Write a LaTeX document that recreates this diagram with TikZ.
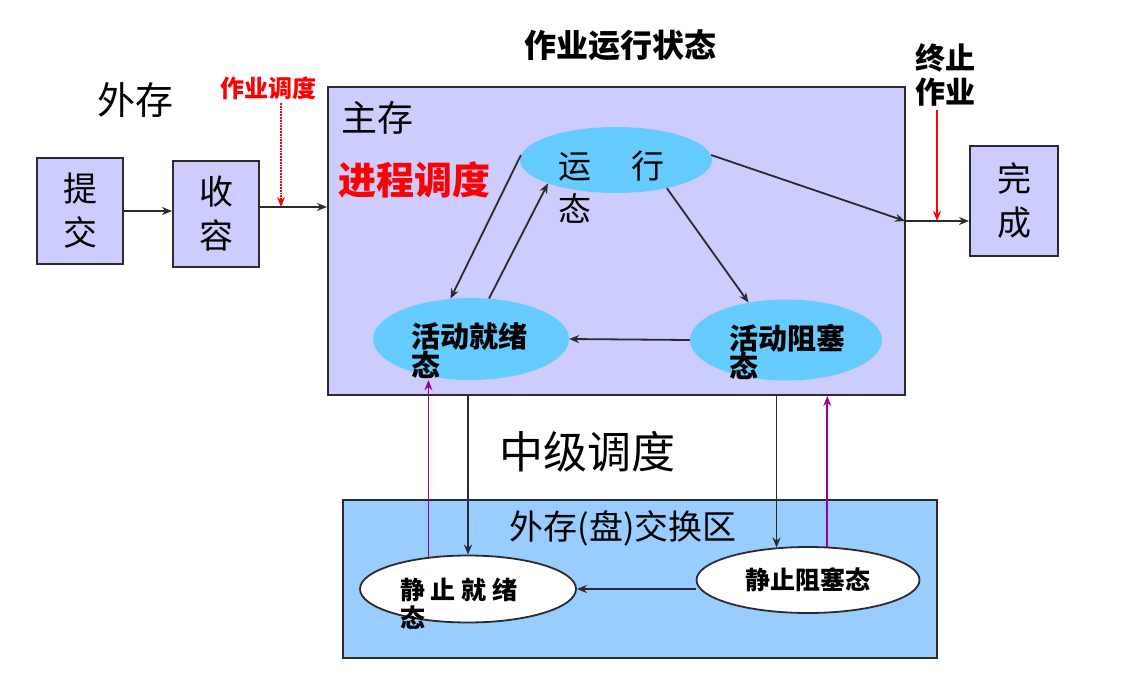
\documentclass[tikz,border=0pt]{standalone}
\usepackage{fontspec}
\setmainfont{Noto Sans CJK SC}
\usepackage{tikz}
\usetikzlibrary{arrows.meta,positioning,shapes.geometric}
\definecolor{lavender}{HTML}{CCCCFF}
\definecolor{skyblue}{HTML}{66CCFF}
\definecolor{swapblue}{HTML}{99CCFF}
\definecolor{plum}{HTML}{990099}
\definecolor{signal}{HTML}{FF0000}
\definecolor{bk90}{HTML}{2B2B2B}
\tikzset{
  jobbox/.style={rectangle, draw=bk90, fill=lavender, line width=2pt,
    minimum width=86pt, minimum height=106pt, align=center,
    font=\fontsize{34}{44}\selectfont, inner sep=0pt},
  membox/.style={rectangle, draw=bk90, fill=#1, line width=2pt, inner sep=0pt},
  membox/.default=lavender,
  stateell/.style={ellipse, fill=#1, inner sep=0pt},
  stateell/.default=skyblue,
  swapell/.style={ellipse, draw=bk90, fill=white, line width=1.8pt,
    inner sep=0pt, font=\bfseries\fontsize{25}{28}\selectfont},
  statelabel/.style={anchor=west, align=left, inner sep=0pt,
    font=\bfseries\fontsize{29}{28}\selectfont},
  statearrow/.style={-{Stealth[length=10pt,width=8pt]}, line width=1.8pt, color=#1},
  statearrow/.default=bk90,
}

\begin{document}
\begin{tikzpicture}[x=1pt, y=-1pt]
  \useasboundingbox (0,0) rectangle (1126,687);
  % memories
  \node[membox, minimum width=577pt, minimum height=308pt] (main) at (616.5,241) {};
  \node[membox=swapblue, minimum width=594pt, minimum height=158pt] (swap) at (640,579) {};

  % jobs
  \node[jobbox] (submit) at (80,211) {提\\交};
  \node[jobbox] (accept) at (216,214) {收\\容};
  \node[jobbox, minimum width=88pt, minimum height=110pt] (done) at (1014,201) {完\\成};

  % labels
  \node[font=\fontsize{38}{38}\selectfont] (ext-label) at (135,100) {外存};
  \node[font=\bfseries\fontsize{24}{24}\selectfont, text=signal] (job-sched) at (268,88) {作业调度};
  \node[font=\bfseries\fontsize{32}{32}\selectfont] (state-title) at (620,45) {作业运行状态};
  \node[font=\fontsize{36}{36}\selectfont, anchor=west, inner sep=0pt] (main-label) at (341,118) {主存};
  \node[font=\bfseries\fontsize{38}{38}\selectfont, text=signal, anchor=west, inner sep=0pt] (proc-sched) at (338,180) {进程调度};
  \node[font=\fontsize{44}{44}\selectfont] (mid-sched) at (587,452) {中级调度};
  \node[font=\fontsize{34}{34}\selectfont] (swap-label) at (623,528) {外存(盘)交换区};
  \node[font=\bfseries\fontsize{30}{34}\selectfont, align=center] (stop) at (945,75) {终止\\作业};

  % states
  \node[stateell, minimum width=192pt, minimum height=66pt] (run) at (616,160) {};
  \node[statelabel, font=\fontsize{33}{43}\selectfont] (run-text) at (558,187) {运\hspace{40pt}行\\态};
  \node[stateell, minimum width=196pt, minimum height=82pt] (ready) at (471,339) {};
  \node[statelabel] (ready-text) at (411,351) {活动就绪\\态};
  \node[stateell, minimum width=192pt, minimum height=81pt] (blocked) at (786,340) {};
  \node[statelabel] (blocked-text) at (729,352) {活动阻塞\\态};
  \node[swapell, minimum width=216pt, minimum height=67pt] (sready) at (468,589) {};
  \node[statelabel, font=\bfseries\fontsize{25}{28}\selectfont] (sready-text) at (400,604) {静 止 就 绪\\态};
  \node[swapell, minimum width=223pt, minimum height=66pt] (sblocked) at (808,580) {静止阻塞态};

  % job flow
  \coordinate (sched-tip) at (281,207);
  \coordinate (exit) at (905,221);
  \coordinate (stop-tip) at (937,221);
  \draw[statearrow] (submit.east) -- (submit.east -| accept.west);
  \draw[statearrow] (accept.east |- sched-tip) -- (main.west |- sched-tip);
  \draw[statearrow=signal, densely dotted, line width=1.3pt] (job-sched.south -| sched-tip) -- (sched-tip);
  \draw[statearrow] (run.3) -- (exit);
  \draw[statearrow] (exit) -- (exit -| done.west);
  \draw[statearrow=signal] (stop.south -| stop-tip) -- (stop-tip);

  % process flow
  \draw[statearrow] (run.177) -- (ready.117);
  \draw[statearrow] (ready.66) -- (run.199);
  \draw[statearrow] (run.331) -- (blocked.135);
  \draw[statearrow] (blocked.west) -- (ready.east);

  % swapping
  \draw[statearrow] (main.south -| sready.north) -- (sready.north);
  \draw[statearrow=plum] (sready.141) -- (sready.141 |- ready.south);
  \draw[statearrow] (main.south -| sblocked.134) -- (sblocked.134);
  \draw[statearrow=plum] (sblocked.60) -- (sblocked.60 |- main.south);
  \draw[statearrow] (sblocked.west |- sready.east) -- (sready.east);
\end{tikzpicture}
\end{document}
